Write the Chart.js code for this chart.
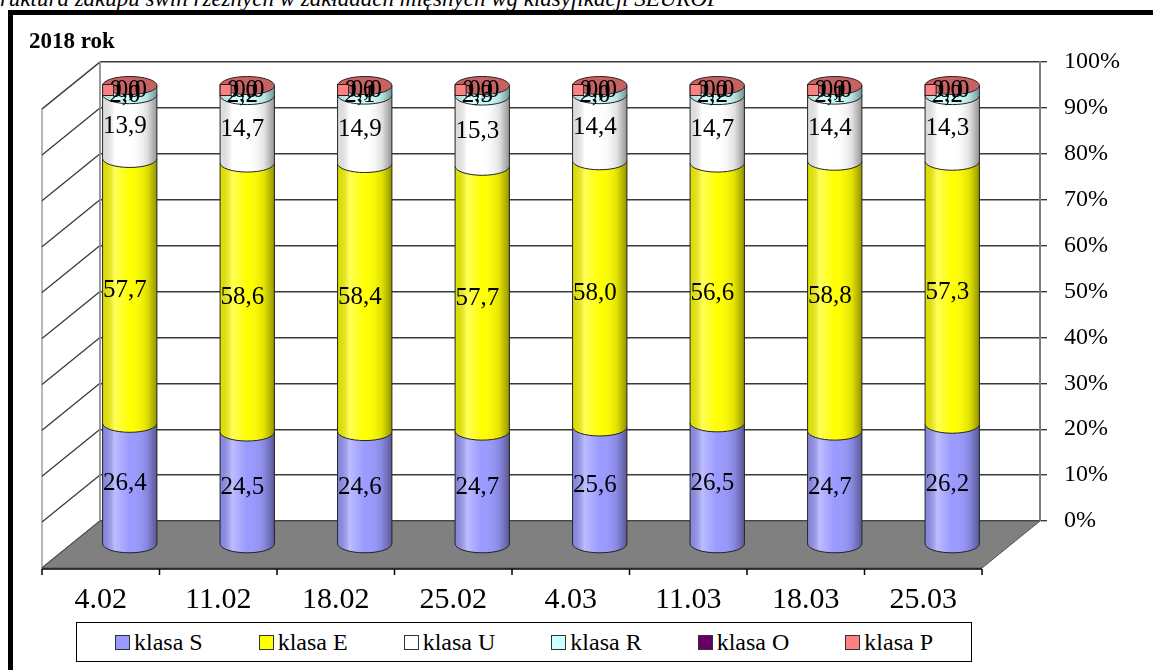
<!DOCTYPE html>
<html>
<head>
<meta charset="utf-8">
<script src="https://cdn.jsdelivr.net/npm/chart.js@4.4.0/dist/chart.umd.min.js"></script>
<style>
  html, body { margin: 0; padding: 0; background: #fff; width: 1153px; height: 670px; overflow: hidden; }
  body { position: relative; font-family: "Liberation Serif", "Times New Roman", serif; color: #000; }
  #chartBox { position: absolute; left: 0; top: 0; width: 1153px; height: 670px; }
  #caption { position: absolute; left: -18px; top: -13px; font-style: italic; font-size: 23px; line-height: 1; white-space: nowrap; }
  #frame { position: absolute; left: 8px; top: 10px; width: 1300px; height: 800px; border-top: 5px solid #000; border-left: 5px solid #000; pointer-events: none; }
  #title { position: absolute; left: 29px; top: 29px; font-weight: bold; font-size: 23px; line-height: 1; white-space: nowrap; }
  #legend { position: absolute; left: 76px; top: 622px; width: 896px; height: 40px; box-sizing: border-box; border: 1px solid #000; background: #fff;
            display: flex; justify-content: center; align-items: center; gap: 56px; font-size: 24px; }
  .li { display: flex; align-items: center; white-space: nowrap; }
  .sw { width: 15px; height: 15px; box-sizing: border-box; border: 1px solid #333; margin-right: 4px; }
</style>
</head>
<body>
<div id="caption">Struktura zakupu świń rzeźnych w zakładach mięsnych wg klasyfikacji SEUROP</div>
<div id="chartBox"><canvas id="c" width="1153" height="670"></canvas></div>
<div id="frame"></div>
<div id="title">2018 rok</div>
<div id="legend"></div>
<script>
// ---- data ----
const categories = ['4.02', '11.02', '18.02', '25.02', '4.03', '11.03', '18.03', '25.03'];
const klasaS = [26.4, 24.5, 24.6, 24.7, 25.6, 26.5, 24.7, 26.2];
const klasaE = [57.7, 58.6, 58.4, 57.7, 58.0, 56.6, 58.8, 57.3];
const klasaU = [13.9, 14.7, 14.9, 15.3, 14.4, 14.7, 14.4, 14.3];
const klasaR = [2.0, 2.2, 2.1, 2.3, 2.0, 2.2, 2.1, 2.2];
const klasaO = [0.0, 0.0, 0.0, 0.0, 0.0, 0.0, 0.0, 0.0];
const klasaP = [0.0, 0.0, 0.0, 0.0, 0.0, 0.0, 0.0, 0.0];
const seriesNames = ['klasa S', 'klasa E', 'klasa U', 'klasa R', 'klasa O', 'klasa P'];
const yTickValues = [0, 10, 20, 30, 40, 50, 60, 70, 80, 90, 100];

// ---- styles ----
const seriesColors = ['#9999FF', '#FFFF00', '#FFFFFF', '#CCFFFF', '#660066', '#FF8080'];
const capColor = '#c86262';
const FONT = '"Liberation Serif", "Times New Roman", serif';
const DEPTH = { dx: -58, dy: 47 };   // 3D depth of the floor / side wall
const RY = 9;                         // ellipse half-height of cylinders

const seriesData = [klasaS, klasaE, klasaU, klasaR, klasaO, klasaP];
const fmt = v => v.toFixed(1).replace('.', ',');

// HTML legend built from the series
const legendEl = document.getElementById('legend');
seriesNames.forEach((name, i) => {
  const it = document.createElement('div'); it.className = 'li';
  const sw = document.createElement('div'); sw.className = 'sw'; sw.style.background = seriesColors[i];
  const tx = document.createElement('span'); tx.textContent = name;
  it.appendChild(sw); it.appendChild(tx); legendEl.appendChild(it);
});

const pseudo3d = {
  id: 'pseudo3d',
  beforeDatasetsDraw(chart) {
    const { ctx, chartArea: a, scales: { x, y } } = chart;
    const { dx, dy } = DEPTH;
    ctx.save();
    // left side wall
    ctx.beginPath();
    ctx.moveTo(a.left, a.top); ctx.lineTo(a.left, a.bottom);
    ctx.lineTo(a.left + dx, a.bottom + dy); ctx.lineTo(a.left + dx, a.top + dy);
    ctx.closePath();
    ctx.fillStyle = '#ffffff'; ctx.fill();
    ctx.strokeStyle = '#a0a0a0'; ctx.lineWidth = 1.5; ctx.stroke();
    // slanted grid on side wall
    ctx.strokeStyle = '#3a3a3a'; ctx.lineWidth = 1.3;
    y.ticks.forEach(t => {
      const py = y.getPixelForValue(t.value);
      ctx.beginPath(); ctx.moveTo(a.left, py); ctx.lineTo(a.left + dx, py + dy); ctx.stroke();
    });
    // back wall left edge
    ctx.strokeStyle = '#909090'; ctx.lineWidth = 1.5;
    ctx.beginPath(); ctx.moveTo(a.left, a.top); ctx.lineTo(a.left, a.bottom); ctx.stroke();
    // floor
    ctx.beginPath();
    ctx.moveTo(a.left, a.bottom); ctx.lineTo(a.right, a.bottom);
    ctx.lineTo(a.right + dx, a.bottom + dy); ctx.lineTo(a.left + dx, a.bottom + dy);
    ctx.closePath();
    ctx.fillStyle = '#808080'; ctx.fill();
    ctx.strokeStyle = '#505050'; ctx.lineWidth = 1; ctx.stroke();
    // front edge + category tick marks
    const n = categories.length;
    const cw = (a.right - a.left) / n;
    ctx.strokeStyle = '#000'; ctx.lineWidth = 1.5;
    ctx.beginPath(); ctx.moveTo(a.left + dx, a.bottom + dy + 1); ctx.lineTo(a.right + dx, a.bottom + dy + 1); ctx.stroke();
    for (let i = 0; i <= n; i++) {
      const bx = x.getPixelForValue(0) - cw / 2 + i * cw + dx;
      ctx.beginPath(); ctx.moveTo(bx, a.bottom + dy + 1); ctx.lineTo(bx, a.bottom + dy + 7); ctx.stroke();
    }
    ctx.restore();
    // bars sit at mid depth
    ctx.save();
    ctx.translate(dx / 2, dy / 2);
  },
  afterDatasetsDraw(chart) {
    const { ctx } = chart;
    const metas = chart.getSortedVisibleDatasetMetas();
    const n = categories.length;
    for (let j = 0; j < n; j++) {
      let topY = null, cx = 0, rx = 0;
      metas.forEach(meta => {
        const di = meta.index;
        const el = meta.data[j];
        const p = el.getProps(['x', 'y', 'base', 'width'], true);
        cx = p.x; rx = p.width / 2;
        topY = topY === null ? p.y : Math.min(topY, p.y);
        if (p.base - p.y < 0.3) return;
        ctx.beginPath();
        ctx.moveTo(p.x - rx, p.y);
        ctx.lineTo(p.x - rx, p.base);
        ctx.ellipse(p.x, p.base, rx, RY, 0, Math.PI, 0, true);
        ctx.lineTo(p.x + rx, p.y);
        ctx.closePath();
        ctx.fillStyle = seriesColors[di]; ctx.fill();
        const g = ctx.createLinearGradient(p.x - rx, 0, p.x + rx, 0);
        g.addColorStop(0, 'rgba(0,0,0,0.12)');
        g.addColorStop(0.22, 'rgba(255,255,255,0.35)');
        g.addColorStop(0.5, 'rgba(255,255,255,0)');
        g.addColorStop(0.82, 'rgba(0,0,0,0.12)');
        g.addColorStop(1, 'rgba(0,0,0,0.42)');
        ctx.fillStyle = g; ctx.fill();
        ctx.strokeStyle = '#222'; ctx.lineWidth = 1; ctx.stroke();
      });
      // top cap
      ctx.beginPath();
      ctx.ellipse(cx, topY, rx, RY, 0, 0, Math.PI * 2);
      ctx.fillStyle = capColor; ctx.fill();
      ctx.strokeStyle = '#222'; ctx.lineWidth = 1; ctx.stroke();
    }
    // data labels
    ctx.font = '25px ' + FONT;
    ctx.fillStyle = '#000';
    ctx.textBaseline = 'middle';
    ctx.textAlign = 'center';
    metas.forEach(meta => {
      const di = meta.index;
      meta.data.forEach((el, j) => {
        const p = el.getProps(['x', 'y', 'base'], true);
        const v = chart.data.datasets[di].data[j];
        const ly = (p.y + p.base) / 2 + (p.base - p.y < 20 ? 5 : 0);
        const lx = p.x - 5;
        const txt = fmt(v);
        if (di === seriesColors.length - 1) {
          const tw = ctx.measureText(txt).width;
          const kx = lx - (tw + 13) / 2;
          ctx.fillStyle = seriesColors[di];
          ctx.fillRect(kx, ly - 6, 11, 11);
          ctx.strokeStyle = '#222'; ctx.lineWidth = 1;
          ctx.strokeRect(kx, ly - 6, 11, 11);
          ctx.fillStyle = '#000';
          ctx.textAlign = 'left';
          ctx.fillText(txt, kx + 13, ly);
          ctx.textAlign = 'center';
        } else {
          ctx.fillText(txt, lx, ly);
        }
      });
    });
    ctx.restore();
  }
};

new Chart(document.getElementById('c'), {
  type: 'bar',
  data: {
    labels: categories,
    datasets: seriesNames.map((name, i) => ({
      label: name,
      data: seriesData[i],
      backgroundColor: seriesColors[i],
      borderWidth: 0,
      categoryPercentage: 1,
      barPercentage: 0.462,
      clip: false
    }))
  },
  options: {
    responsive: false,
    animation: false,
    devicePixelRatio: 1,
    layout: { padding: { left: 100, top: 62, right: 0, bottom: 0 } },
    plugins: { legend: { display: false }, tooltip: { enabled: false }, title: { display: false } },
    scales: {
      x: {
        stacked: true,
        grid: { display: false, drawTicks: false, tickLength: 0 },
        border: { display: false },
        ticks: { font: { family: FONT, size: 30 }, color: '#000', padding: 61, labelOffset: DEPTH.dx, maxRotation: 0, autoSkip: false },
        afterFit(s) { s.height = 149; }
      },
      y: {
        stacked: true,
        position: 'right',
        min: 0, max: 100,
        afterBuildTicks(s) { s.ticks = yTickValues.map(v => ({ value: v })); },
        ticks: { font: { family: FONT, size: 24 }, color: '#000', padding: 17, callback: v => v + '%' },
        grid: { color: '#3a3a3a', lineWidth: 1.4, tickLength: 7, drawTicks: true },
        border: { display: true, color: '#808080', width: 2 },
        afterFit(s) { s.width = 113; }
      }
    }
  },
  plugins: [pseudo3d]
});
</script>
</body>
</html>
